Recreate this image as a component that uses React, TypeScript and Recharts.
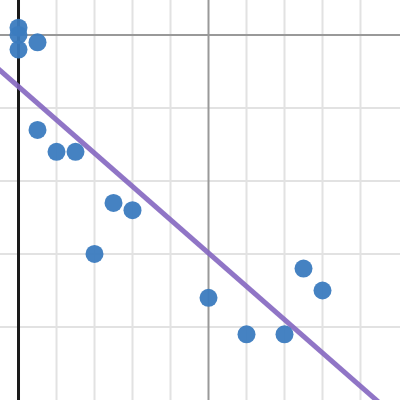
import React from "react";
import {
  ScatterChart,
  Scatter,
  XAxis,
  YAxis,
  ReferenceLine,
} from "recharts";

const xValues = [0, 0, 0, 1, 1, 2, 3, 5, 6, 4, 10, 12, 14, 15, 16];
const yValues = [51, 50, 48, 49, 37, 34, 34, 27, 26, 20, 14, 9, 9, 18, 15];

const xMinor = [2, 4, 6, 8, 12, 14, 16, 18];
const yMinor = [10, 20, 30, 40];
const xMajor = [10];
const yMajor = [50];

const X_DOMAIN: [number, number] = [-0.974, 20.079];
const Y_DOMAIN: [number, number] = [0, 54.79];

const points = xValues.map((x, i) => ({ x, y: yValues[i] }));

// least squares fit through the observations
const fit = (() => {
  const n = xValues.length;
  const mx = xValues.reduce((a, b) => a + b, 0) / n;
  const my = yValues.reduce((a, b) => a + b, 0) / n;
  let sxy = 0;
  let sxx = 0;
  xValues.forEach((x, i) => {
    sxy += (x - mx) * (yValues[i] - my);
    sxx += (x - mx) * (x - mx);
  });
  const slope = sxy / sxx;
  const b = my - slope * mx;
  return { slope, b };
})();

const lineEnds = [X_DOMAIN[0] - 1, X_DOMAIN[1] + 1].map((x) => ({
  x,
  y: fit.b + fit.slope * x,
}));

const App: React.FC = () => {
  return (
    <div style={{ position: "absolute", left: 0, top: 0, width: 400, height: 400, background: "#fff" }}>
      <ScatterChart width={400} height={400} margin={{ top: 0, right: 0, bottom: 0, left: 0 }}>
        <XAxis type="number" dataKey="x" domain={X_DOMAIN} allowDataOverflow hide />
        <YAxis type="number" dataKey="y" domain={Y_DOMAIN} allowDataOverflow hide />
        {xMinor.map((v) => (
          <ReferenceLine key={"gx" + v} x={v} stroke="#e2e2e2" strokeWidth={2} />
        ))}
        {yMinor.map((v) => (
          <ReferenceLine key={"gy" + v} y={v} stroke="#e2e2e2" strokeWidth={2} />
        ))}
        {xMajor.map((v) => (
          <ReferenceLine key={"mx" + v} x={v} stroke="#999" strokeWidth={2} />
        ))}
        {yMajor.map((v) => (
          <ReferenceLine key={"my" + v} y={v} stroke="#999" strokeWidth={2} />
        ))}
        <ReferenceLine x={0} stroke="#1a1a1a" strokeWidth={3} />
        <ReferenceLine
          segment={lineEnds}
          stroke="#8466c0"
          strokeOpacity={0.9}
          strokeWidth={5}
          ifOverflow="visible"
        />
        <Scatter
          data={points}
          fill="#3b7bbf"
          isAnimationActive={false}
          shape={(p: any) => <circle cx={p.cx} cy={p.cy} r={9} fill="#3b7bbf" fillOpacity={0.95} />}
        />
      </ScatterChart>
    </div>
  );
};

export default App;
